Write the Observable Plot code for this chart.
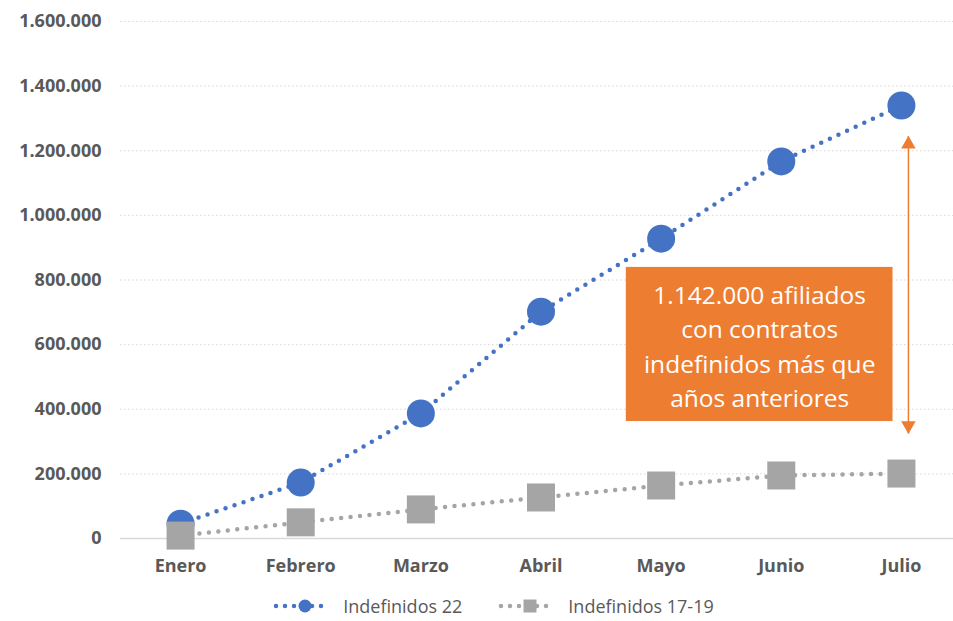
<!DOCTYPE html>
<html>
<head>
<meta charset="utf-8">
<script src="https://cdn.jsdelivr.net/npm/d3@7"></script>
<script src="https://cdn.jsdelivr.net/npm/@observablehq/plot@0.6"></script>
<style>
  body { margin: 0; background: #fff; font-family: "Open Sans", sans-serif; }
  #chart svg { display: block; }
  #legend { display: flex; justify-content: center; align-items: center; height: 28px; padding-left: 34px; color: #595959; font-size: 18px; line-height: 22px; }
  .item { display: flex; align-items: center; }
  .item svg { margin-right: 12px; display: block; }
  .gap { width: 36px; }
</style>
</head>
<body>
<div id="chart"></div>
<div id="legend"></div>
<script>
const months = ["Enero", "Febrero", "Marzo", "Abril", "Mayo", "Junio", "Julio"];
const indef22 = [46000, 173000, 387000, 702000, 928000, 1167000, 1340000];
const indef1719 = [9000, 50000, 90000, 127000, 164000, 195000, 201000];
const yTicks = [0, 200000, 400000, 600000, 800000, 1000000, 1200000, 1400000, 1600000];
const seriesNames = ["Indefinidos 22", "Indefinidos 17-19"];
const noteText = "1.142.000 afiliados\ncon contratos\nindefinidos más que\naños anteriores";
// annotation extents (data units)
const noteBox = {x1: 3.71, x2: 5.93, y1: 362000, y2: 839000, tx: 4.82, ty: 600000};
const arrowSpan = {x: 6, y1: 325000, y2: 1245000};

const blue = "#4472C4", gray = "#A5A5A5", orange = "#ED7D31";
const fmt = d3.formatLocale({decimal: ",", thousands: ".", grouping: [3], currency: ["", ""]}).format(",");

const d22 = months.map((m, i) => ({i, m, v: indef22[i]}));
const d17 = months.map((m, i) => ({i, m, v: indef1719[i]}));

const chart = Plot.plot({
  width: 953,
  height: 592,
  marginLeft: 120,
  marginRight: 0,
  marginTop: 21,
  marginBottom: 54,
  style: {fontFamily: "'Open Sans', sans-serif", background: "#fff"},
  x: {domain: [-0.5, 6.5], range: [120, 961]},
  y: {domain: [0, 1600000]},
  marks: [
    Plot.ruleY(yTicks.filter(d => d > 0), {stroke: "#D9D9D9", strokeWidth: 1, strokeDasharray: "1.5,2.5"}),
    Plot.ruleY([0], {stroke: "#D9D9D9", strokeWidth: 1.5}),
    Plot.axisY({ticks: yTicks, tickFormat: fmt, tickSize: 0, tickPadding: 19, fontSize: 18, fontWeight: "bold", fill: "#595959", label: null}),
    Plot.axisX({ticks: d3.range(7), tickFormat: i => months[i], tickSize: 0, tickPadding: 21, fontSize: 18, fontWeight: "bold", fill: "#595959", label: null}),
    Plot.line(d22, {x: "i", y: "v", stroke: blue, strokeWidth: 4.5, strokeDasharray: "0,9.5", strokeLinecap: "round"}),
    Plot.dot(d22, {x: "i", y: "v", r: 14, fill: blue, stroke: null}),
    Plot.line(d17, {x: "i", y: "v", stroke: gray, strokeWidth: 4.5, strokeDasharray: "0,9.5", strokeLinecap: "round"}),
    Plot.dot(d17, {x: "i", y: "v", r: 15.8, symbol: "square", fill: gray, stroke: null}),
    Plot.rect([noteBox], {x1: "x1", x2: "x2", y1: "y1", y2: "y2", fill: orange}),
    Plot.text([noteBox], {x: "tx", y: "ty", text: () => noteText, fill: "#fff", fontSize: 24.5, lineHeight: 1.4}),
    Plot.link([arrowSpan], {x1: "x", x2: "x", y1: "y1", y2: "y2", dx: 7, stroke: orange, strokeWidth: 1.5}),
    Plot.dot([arrowSpan], {x: "x", y: "y2", dx: 7, dy: 8, symbol: "triangle", r: 5.4, fill: orange, stroke: null}),
    Plot.dot([arrowSpan], {x: "x", y: "y1", dx: 7, dy: -8, symbol: "triangle", rotate: 180, r: 5.4, fill: orange, stroke: null})
  ]
});
document.getElementById("chart").appendChild(chart);

// legend
const legend = document.getElementById("legend");
function swatch(color, shape) {
  const ns = "http://www.w3.org/2000/svg";
  const s = document.createElementNS(ns, "svg");
  s.setAttribute("width", 58); s.setAttribute("height", 20);
  const l = document.createElementNS(ns, "line");
  l.setAttribute("x1", 3); l.setAttribute("x2", 57); l.setAttribute("y1", 10); l.setAttribute("y2", 10);
  l.setAttribute("stroke", color); l.setAttribute("stroke-width", 4.5);
  l.setAttribute("stroke-dasharray", "0,9"); l.setAttribute("stroke-linecap", "round");
  s.appendChild(l);
  let m;
  if (shape === "circle") {
    m = document.createElementNS(ns, "circle");
    m.setAttribute("cx", 32); m.setAttribute("cy", 10); m.setAttribute("r", 6.5);
  } else {
    m = document.createElementNS(ns, "rect");
    m.setAttribute("x", 25.5); m.setAttribute("y", 3.5); m.setAttribute("width", 13); m.setAttribute("height", 13);
  }
  m.setAttribute("fill", color);
  s.appendChild(m);
  return s;
}
[[seriesNames[0], blue, "circle"], [seriesNames[1], gray, "square"]].forEach(([name, c, sh], k) => {
  if (k > 0) { const g = document.createElement("div"); g.className = "gap"; legend.appendChild(g); }
  const it = document.createElement("div"); it.className = "item";
  it.appendChild(swatch(c, sh));
  const t = document.createElement("span"); t.textContent = name;
  it.appendChild(t);
  legend.appendChild(it);
});
</script>
</body>
</html>
